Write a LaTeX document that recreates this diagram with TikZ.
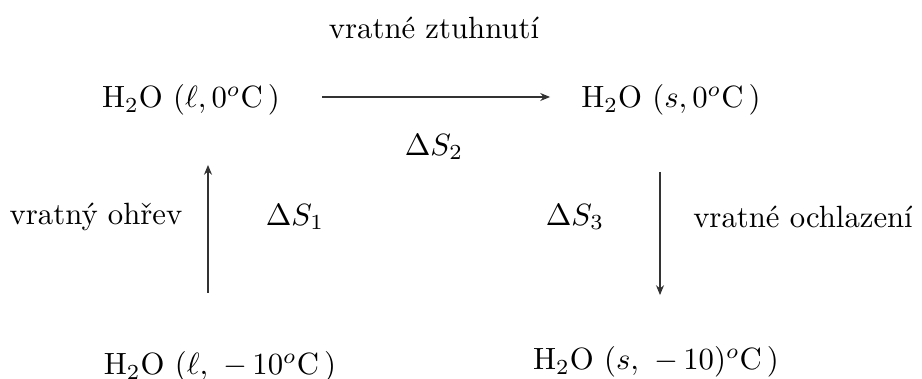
\documentclass[tikz,border=0pt]{standalone}
\usetikzlibrary{arrows.meta}
\begin{document}
\begin{tikzpicture}[x=0.3254pt,y=-0.3254pt,
  lbl/.style={inner sep=0pt,anchor=center},
  conn/.style={line width=0.4pt,draw=black!80,-{Stealth[length=3.2pt,width=2.6pt]},shorten >=-1pt}]
\useasboundingbox (0,0) rectangle (922,379);
\node[lbl] (t1) at (434,28) {vratné ztuhnutí};
\node[lbl] (a) at (191,100) {H$_2$O $(\ell, 0^o\mathrm{C}\,)$};
\node[lbl] (b) at (671,100) {H$_2$O $(s, 0^o\mathrm{C}\,)$};
\node[lbl] (ds2) at (434,147) {$\Delta S_2$};
\node[lbl] (t2) at (96,217) {vratný ohřev};
\node[lbl] (ds1) at (295,217) {$\Delta S_1$};
\node[lbl] (ds3) at (575,217) {$\Delta S_3$};
\node[lbl] (t3) at (803,217) {vratné ochlazení};
\node[lbl] (c) at (220,367) {H$_2$O $(\ell,\ -\,10^o\mathrm{C}\,)$};
\node[lbl] (d) at (656,362) {H$_2$O $(s,\ -\,10)^o\mathrm{C}\,)$};
\coordinate (p1) at (322,97);
\coordinate (p2) at (547,97);
\coordinate (q1) at (208,293);
\coordinate (q2) at (208,168);
\coordinate (r1) at (660,172);
\coordinate (r2) at (660,292);
\draw[conn] (p1) -- (p2);
\draw[conn] (q1) -- (q2);
\draw[conn] (r1) -- (r2);
\end{tikzpicture}
\end{document}
